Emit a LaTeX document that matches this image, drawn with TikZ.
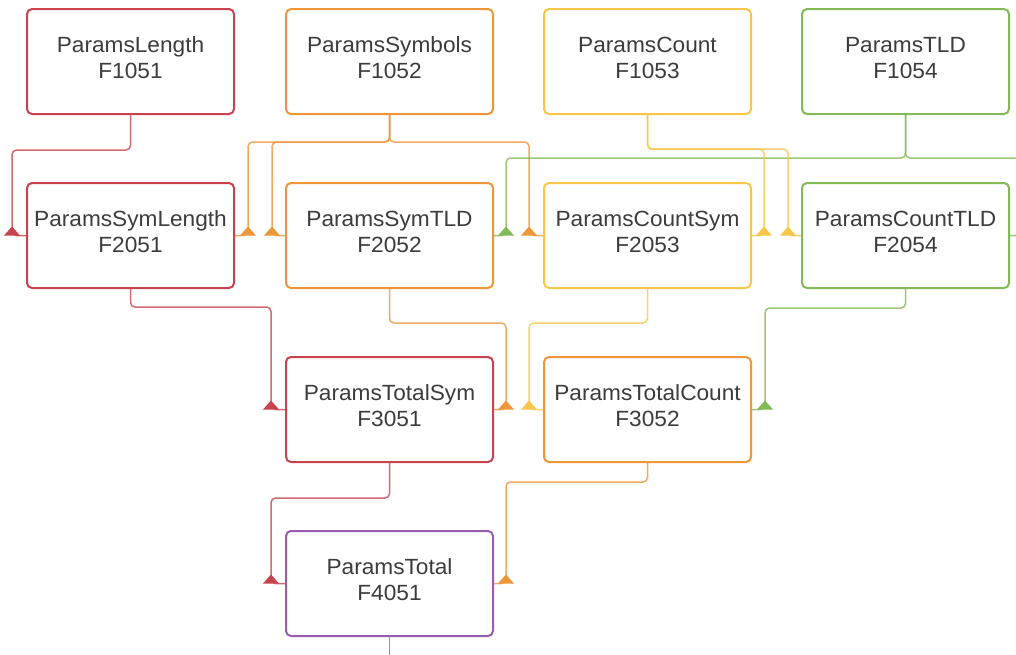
\documentclass[tikz,border=0pt]{standalone}
\usepackage{fontspec}
\setmainfont{Liberation Sans}[FakeStretch=1.03]
\usetikzlibrary{calc}

\definecolor{cred}{HTML}{C8434E}
\definecolor{corange}{HTML}{EE963A}
\definecolor{cyellow}{HTML}{F8C64A}
\definecolor{cgreen}{HTML}{82BA56}
\definecolor{cpurple}{HTML}{985CB3}
\definecolor{txt}{HTML}{3C3C3C}

% filled arrow tip sitting on the end of a connector, apex pointing up
\newcommand\intip[2]{\fill[#1] ($(#2)+(0,-9)$) -- ($(#2)+(-8,0)$) -- ($(#2)+(8,0)$) -- cycle;}

\begin{document}
\begin{tikzpicture}[x=1pt,y=-1pt,
  box/.style={draw=#1, line width=2pt, rounded corners=5pt,
    minimum width=207pt, minimum height=105pt, inner sep=0pt,
    align=center, font=\fontsize{22}{26}\selectfont, text=txt,
    text depth=8pt, fill=white},
  link/.style={draw=#1, line width=1.5pt, rounded corners=4.5pt, draw opacity=0.8}]

\useasboundingbox (0,0) rectangle (1016,654);

% level 1
\node[box=cred]    (A) at (130.5,61.5) {ParamsLength\\F1051};
\node[box=corange] (B) at (389.5,61.5) {ParamsSymbols\\F1052};
\node[box=cyellow] (C) at (647.5,61.5) {ParamsCount\\F1053};
\node[box=cgreen]  (D) at (905.5,61.5) {ParamsTLD\\F1054};
% level 2
\node[box=cred]    (E) at (130.5,235.5) {ParamsSymLength\\F2051};
\node[box=corange] (F) at (389.5,235.5) {ParamsSymTLD\\F2052};
\node[box=cyellow] (G) at (647.5,235.5) {ParamsCountSym\\F2053};
\node[box=cgreen]  (H) at (905.5,235.5) {ParamsCountTLD\\F2054};
% level 3
\node[box=cred]    (I) at (389.5,409.5) {ParamsTotalSym\\F3051};
\node[box=corange] (J) at (647.5,409.5) {ParamsTotalCount\\F3052};
% level 4
\node[box=cpurple] (K) at (389.5,583.5) {ParamsTotal\\F4051};

% level 1 -> level 2
\draw[link=cred]    (A.south) -- ++(0,35) -| ($(E.west)+(-14,0)$) -- (E.west);
\draw[link=corange] (B.south) -- ++(0,27) -| ($(E.east)+(13,0)$) -- (E.east);
\draw[link=corange] (B.south) -- ++(0,27) -| ($(F.west)+(-13,0)$) -- (F.west);
\draw[link=corange] (B.south) -- ++(0,27) -| ($(G.west)+(-14,0)$) -- (G.west);
\draw[link=cgreen]  (D.south) -- ++(0,43) -| ($(F.east)+(12,0)$) -- (F.east);
\draw[link=cgreen]  (D.south) -- ++(0,43) -| ($(H.east)+(13,0)$) -- (H.east);
\draw[link=cyellow] (C.south) -- ++(0,34) -| ($(G.east)+(12,0)$) -- (G.east);
\draw[link=cyellow] (C.south) -- ++(0,34) -| ($(H.west)+(-13,0)$) -- (H.west);

\intip{cred}{$(E.west)+(-14,0)$}
\intip{corange}{$(E.east)+(13,0)$}
\intip{corange}{$(F.west)+(-13,0)$}
\intip{corange}{$(G.west)+(-14,0)$}
\intip{cgreen}{$(F.east)+(12,0)$}
\intip{cgreen}{$(H.east)+(13,0)$}
\intip{cyellow}{$(G.east)+(12,0)$}
\intip{cyellow}{$(H.west)+(-13,0)$}

% level 2 -> level 3
\draw[link=cred]    (E.south) -- ++(0,18) -| ($(I.west)+(-14,0)$) -- (I.west);
\draw[link=corange] (F.south) -- ++(0,34) -| ($(I.east)+(12,0)$) -- (I.east);
\draw[link=cyellow] (G.south) -- ++(0,34) -| ($(J.west)+(-14,0)$) -- (J.west);
\draw[link=cgreen]  (H.south) -- ++(0,19) -| ($(J.east)+(13,0)$) -- (J.east);

\intip{cred}{$(I.west)+(-14,0)$}
\intip{corange}{$(I.east)+(12,0)$}
\intip{cyellow}{$(J.west)+(-14,0)$}
\intip{cgreen}{$(J.east)+(13,0)$}

% level 3 -> level 4
\draw[link=cred]    (I.south) -- ++(0,35) -| ($(K.west)+(-14,0)$) -- (K.west);
\draw[link=corange] (J.south) -- ++(0,19) -| ($(K.east)+(12,0)$) -- (K.east);

\intip{cred}{$(K.west)+(-14,0)$}
\intip{corange}{$(K.east)+(12,0)$}

% outgoing link of the total
\coordinate (out) at ($(K.south)+(0,30)$);
\draw[link=cpurple] (K.south) -- (out);

\end{tikzpicture}
\end{document}
